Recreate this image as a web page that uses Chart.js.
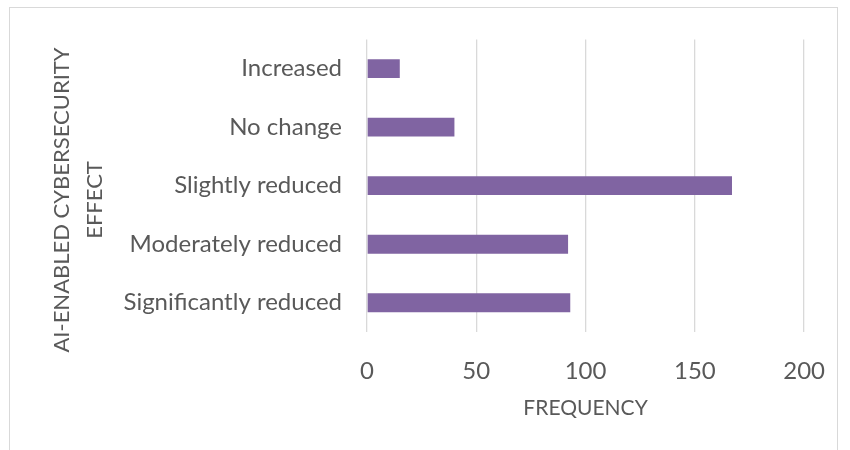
<!DOCTYPE html>
<html>
<head>
<meta charset="utf-8">
<script src="https://cdn.jsdelivr.net/npm/chart.js@4"></script>
<style>
  html, body { margin: 0; padding: 0; background: #ffffff; }
  #wrap { position: relative; width: 850px; height: 450px; overflow: hidden; }
  #frame { position: absolute; left: 9px; top: 7px; width: 829px; height: 460px;
           border: 1px solid #d9d9d9; box-sizing: border-box; pointer-events: none; }
  canvas { position: absolute; left: 0; top: 0; }
</style>
</head>
<body>
<div id="wrap">
  <canvas id="c" width="850" height="450"></canvas>
  <div id="frame"></div>
</div>
<script>
// Survey responses: perceived effect of AI-enabled cybersecurity
const categories = ['Increased', 'No change', 'Slightly reduced', 'Moderately reduced', 'Significantly reduced'];
const frequency = [15, 40, 167, 92, 93];
const xTicks = [0, 50, 100, 150, 200];
const yTitleLines = ['AI-ENABLED CYBERSECURITY', 'EFFECT'];
const xTitle = 'FREQUENCY';

const FONT = 'Lato, "Open Sans", "Liberation Sans", sans-serif';
const TEXT = '#595959';
const GRID = '#d9d9d9';

// Two-line rotated title for the category axis
const yTitlePlugin = {
  id: 'yTitle',
  afterDraw(chart) {
    const ctx = chart.ctx;
    ctx.save();
    ctx.fillStyle = TEXT;
    ctx.font = '22px ' + FONT;
    ctx.textAlign = 'center';
    ctx.textBaseline = 'middle';
    const xs = [62, 95];
    yTitleLines.forEach((line, i) => {
      ctx.save();
      ctx.translate(xs[i], 200);
      ctx.rotate(-Math.PI / 2);
      ctx.fillText(line, 0, 0);
      ctx.restore();
    });
    ctx.restore();
  }
};

new Chart(document.getElementById('c'), {
  type: 'bar',
  data: {
    labels: categories,
    datasets: [{
      data: frequency,
      backgroundColor: '#8064A2',
      borderWidth: 0,
      categoryPercentage: 1,
      barPercentage: 0.322
    }]
  },
  options: {
    indexAxis: 'y',
    responsive: false,
    animation: false,
    layout: { padding: { top: 37, right: 38, bottom: 0, left: 0 } },
    plugins: { legend: { display: false }, tooltip: { enabled: false } },
    scales: {
      x: {
        min: xTicks[0],
        max: xTicks[xTicks.length - 1],
        afterBuildTicks(scale) { scale.ticks = xTicks.map(v => ({ value: v })); },
        afterFit(scale) { scale.height = 118; },
        grid: { color: GRID, lineWidth: 1.3, drawTicks: false },
        border: { display: false },
        ticks: { color: TEXT, font: { family: FONT, size: 24 }, padding: 25 },
        title: {
          display: true, text: xTitle, color: TEXT,
          font: { family: FONT, size: 21, lineHeight: 1.2 },
          padding: { top: 0, bottom: 29 }
        }
      },
      y: {
        afterFit(scale) { scale.width = 367; },
        grid: { display: false, drawTicks: false },
        border: { display: false },
        ticks: { color: TEXT, font: { family: FONT, size: 24 }, padding: 25 }
      }
    }
  },
  plugins: [yTitlePlugin]
});
</script>
</body>
</html>
